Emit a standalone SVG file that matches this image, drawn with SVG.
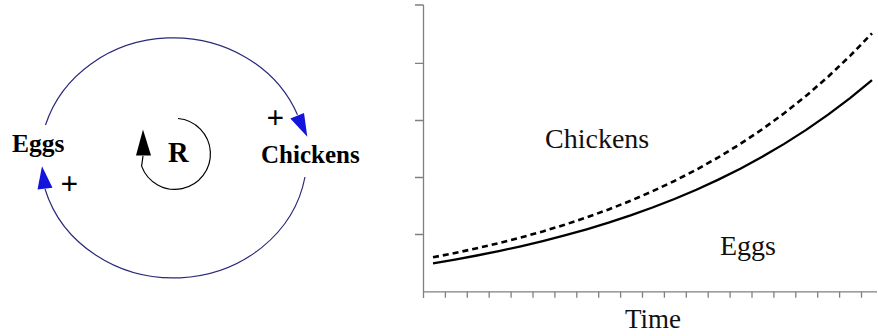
<svg xmlns="http://www.w3.org/2000/svg" width="878" height="336" viewBox="0 0 878 336">
<style>
.lbl{font-family:'Liberation Serif','DejaVu Serif','Times New Roman',serif;font-weight:bold;fill:#000}
.plt{font-family:'Liberation Serif','DejaVu Serif','Times New Roman',serif;fill:#111}
.link{fill:none;stroke:#2a2a78;stroke-width:1.2}
.head{fill:#1414dc}
.axis{stroke:#808080;stroke-width:1.3;fill:none}
.curve{fill:none;stroke:#000;stroke-linejoin:round}
</style>
<rect width="878" height="336" fill="#fff"/>
<g id="connectors">
<path class="link" d="M45.5,125 A133.5,122 0 0,1 297.5,114.8"/>
<polygon class="head" points="307.3,136.7 290.3,118.5 304,113"/>
<path class="link" d="M305,177 A133.5,122 0 0,1 45,189"/>
<polygon class="head" points="42,166.3 37.5,189.6 52.5,187.8"/>
</g>
<g id="eggs">
<text class="lbl" x="12" y="152" font-size="25.5">Eggs</text>
<text class="lbl" x="60.5" y="193.5" font-size="31">+</text>
</g>
<g id="chickens">
<text class="lbl" x="261" y="163" font-size="25">Chickens</text>
<text class="lbl" x="266.5" y="127.5" font-size="31">+</text>
</g>
<g id="loop-R">
<path d="M178,118.5 A35.5,35.5 0 1,1 141.6,166.1 L143,156" fill="none" stroke="#000" stroke-width="1.2"/>
<polygon points="143,129.5 136,155.5 151,155.5" fill="#000"/>
<text class="lbl" x="168" y="162" font-size="28.5">R</text>
</g>
<g id="chart">
<path class="axis" d="M423.5,5 V298 M415,5 H423.5 M415,63.3 H423.5 M415,120.5 H423.5 M415,177.5 H423.5 M415,234.5 H423.5 M423.5,291.8 H877"/>
<path class="axis" d="M445.4,291.8v6 M467.3,291.8v6 M489.2,291.8v6 M511.1,291.8v6 M533,291.8v6 M554.9,291.8v6 M576.8,291.8v6 M598.7,291.8v6 M620.6,291.8v6 M642.5,291.8v6 M664.4,291.8v6 M686.3,291.8v6 M708.2,291.8v6 M730.1,291.8v6 M752,291.8v6 M773.9,291.8v6 M795.8,291.8v6 M817.7,291.8v6 M839.6,291.8v6 M861.5,291.8v6"/>
<polyline class="curve" stroke-width="2.6" stroke-dasharray="6 4" points="433,257.3 454.95,252.98 476.9,248.27 498.85,243.12 520.8,237.51 542.75,231.39 564.7,224.71 586.65,217.41 608.6,209.45 630.55,200.77 652.5,191.29 674.45,180.95 696.4,169.67 718.35,157.36 740.3,143.92 762.25,129.26 784.2,113.26 806.15,95.8 828.1,76.75 850.05,55.96 872,33.3"/>
<polyline class="curve" stroke-width="2.3" points="433,263.3 454.95,259.56 476.9,255.5 498.85,251.09 520.8,246.3 542.75,241.1 564.7,235.44 586.65,229.3 608.6,222.64 630.55,215.4 652.5,207.53 674.45,198.99 696.4,189.71 718.35,179.63 740.3,168.68 762.25,156.79 784.2,143.88 806.15,129.85 828.1,114.62 850.05,98.07 872,80.1"/>
<text class="plt" x="545" y="147.5" font-size="28">Chickens</text>
<text class="plt" x="720" y="255" font-size="28">Eggs</text>
<text class="plt" x="625" y="328" font-size="27">Time</text>
</g>
</svg>
